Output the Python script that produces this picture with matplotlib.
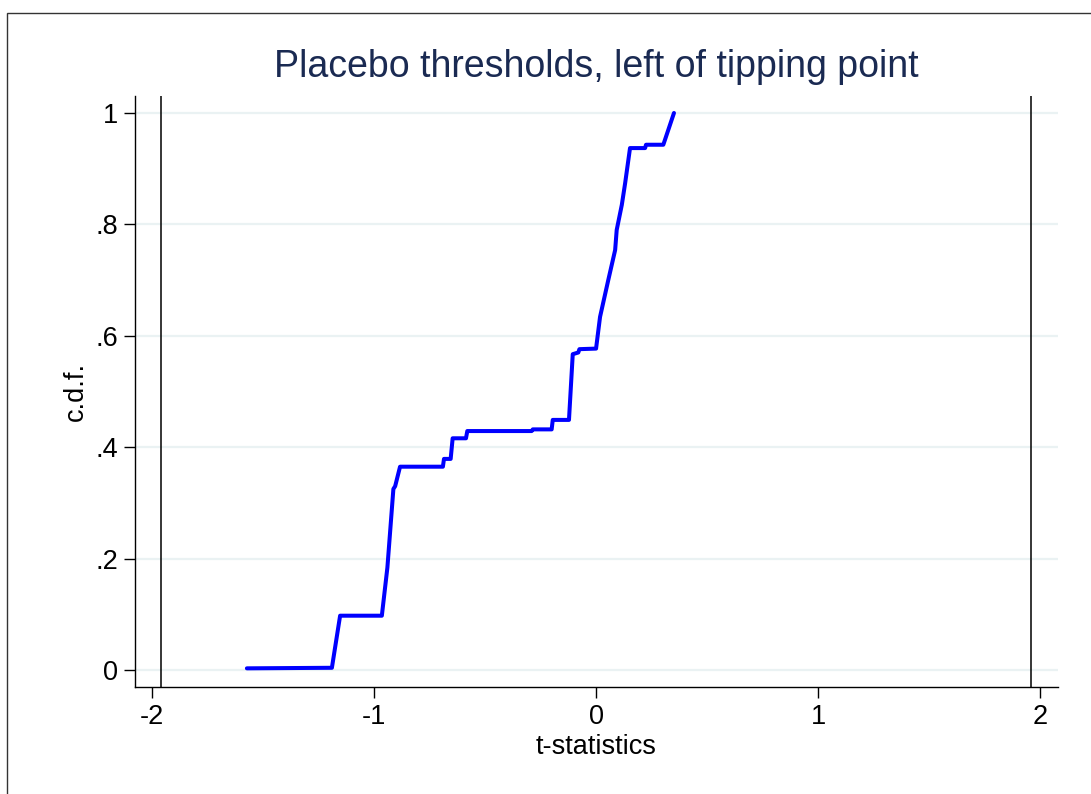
import matplotlib
matplotlib.use("Agg")
import matplotlib.pyplot as plt
from matplotlib.patches import Rectangle

plt.rcParams["font.family"] = ["Liberation Sans", "DejaVu Sans"]

t_stat = [-1.573, -1.19, -1.153, -0.965, -0.94, -0.913, -0.905, -0.883, -0.69, -0.685,
          -0.655, -0.646, -0.586, -0.58, -0.29, -0.285, -0.2, -0.195, -0.122, -0.105,
          -0.08, -0.075, 0.0, 0.018, 0.055, 0.086, 0.093, 0.116, 0.131, 0.153,
          0.221, 0.225, 0.303, 0.351]
cdf = [0.003, 0.004, 0.0975, 0.0975, 0.184, 0.325, 0.33, 0.365, 0.365, 0.379,
       0.379, 0.416, 0.416, 0.429, 0.429, 0.432, 0.432, 0.449, 0.449, 0.567,
       0.570, 0.576, 0.577, 0.634, 0.70, 0.754, 0.79, 0.835, 0.874, 0.937,
       0.937, 0.943, 0.943, 1.0]

crit = [-1.96, 1.96]
x_ticks = [-2, -1, 0, 1, 2]
x_labels = ["-2", "-1", "0", "1", "2"]
y_ticks = [0, 0.2, 0.4, 0.6, 0.8, 1.0]
y_labels = ["0", ".2", ".4", ".6", ".8", "1"]

W, H = 1091, 794
fig = plt.figure(figsize=(W / 100, H / 100), dpi=100)
ax = fig.add_axes([135 / W, 1 - 687 / H, (1058 - 135) / W, (687 - 96) / H])

# outer frame (cut off at right/bottom like the reference)
fig.patches.append(Rectangle((7 / W, -0.05), 1.2, 1 - 13 / H + 0.05,
                             transform=fig.transFigure, fill=False,
                             edgecolor="#333333", linewidth=1.0))

for y in y_ticks:
    ax.axhline(y, color="#eaf2f3", linewidth=1.6, zorder=0)
for c in crit:
    ax.axvline(c, color="black", linewidth=1.1, zorder=1)

ax.plot(t_stat, cdf, color="#0000ff", linewidth=2.9, solid_capstyle="round",
        solid_joinstyle="round", zorder=2)

ax.set_xlim(-2.077, 2.081)
ax.set_ylim(-0.0305, 1.0305)
ax.set_xticks(x_ticks)
ax.set_xticklabels(x_labels)
ax.set_yticks(y_ticks)
ax.set_yticklabels(y_labels)
ax.tick_params(direction="out", length=8, width=1.0, labelsize=19.5, pad=4)
ax.spines["top"].set_visible(False)
ax.spines["right"].set_visible(False)
ax.spines["left"].set_linewidth(1.0)
ax.spines["bottom"].set_linewidth(1.0)

ax.set_xlabel("t-statistics", fontsize=19.5, labelpad=3)
ax.set_ylabel("c.d.f.", fontsize=19.5, labelpad=5)
fig.text(596 / W, 1 - 67 / H, "Placebo thresholds, left of tipping point",
         ha="center", va="center", fontsize=27, color="#1a2a52")

fig.savefig("out.png", dpi=100)
